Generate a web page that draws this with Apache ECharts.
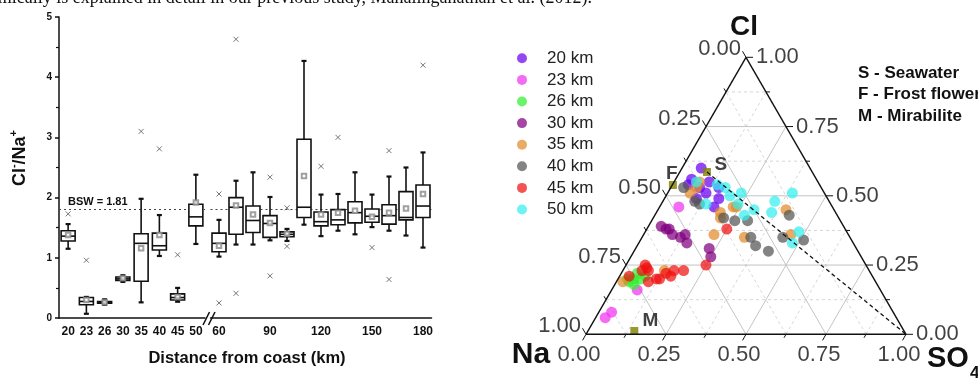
<!DOCTYPE html>
<html>
<head>
<meta charset="utf-8">
<script src="https://cdn.jsdelivr.net/npm/echarts@6/dist/echarts.min.js"></script>
<style>
  html, body { margin: 0; padding: 0; background: #fff; }
  #chart { width: 978px; height: 380px; }
</style>
</head>
<body>
<div id="chart"></div>
<script>
// box plot: Cl-/Na+ ratio by distance from coast
const leftCats = ["20", "23", "26", "30", "35", "40", "45", "50"];
const rightCats = ["60", "70", "80", "90", "100", "110", "120", "130", "140", "150", "160", "170", "180"];
// [min, Q1, median, Q3, max]
const leftBoxes = [
  [1.15, 1.28, 1.36, 1.45, 1.56],
  [0.07, 0.22, 0.275, 0.34, 0.35],
  [0.22, 0.245, 0.26, 0.275, 0.31],
  [0.6, 0.625, 0.65, 0.68, 0.71],
  [0.26, 0.61, 1.24, 1.4, 1.98],
  [1.03, 1.13, 1.2, 1.41, 1.71],
  [0.27, 0.3, 0.34, 0.4, 0.5],
  [1.23, 1.53, 1.68, 1.89, 2.38],
];
const rightBoxes = [
  [1.02, 1.1, 1.24, 1.41, 1.63],
  [1.22, 1.39, 1.84, 2.0, 2.28],
  [1.22, 1.42, 1.62, 1.86, 2.42],
  [1.29, 1.34, 1.57, 1.7, 2.01],
  [1.28, 1.35, 1.39, 1.43, 1.48],
  [1.55, 1.67, 1.84, 2.97, 4.27],
  [1.36, 1.53, 1.6, 1.76, 2.05],
  [1.45, 1.55, 1.63, 1.8, 2.06],
  [1.39, 1.58, 1.75, 1.93, 2.42],
  [1.51, 1.59, 1.69, 1.81, 2.05],
  [1.45, 1.56, 1.7, 1.88, 2.35],
  [1.37, 1.63, 1.67, 2.1, 2.5],
  [1.17, 1.67, 1.86, 2.21, 2.75],
];
const leftMeans = [1.38, 0.3, 0.26, 0.66, 1.16, 1.38, 0.35, 1.92];
const rightMeans = [1.2, 1.87, 1.72, 1.58, 1.4, 2.36, 1.72, 1.75, 1.78, 1.68, 1.75, 1.82, 2.06];
const leftOutliers = [[1.73], [0.96], [], [], [3.1], [2.81], [1.05], []];
const rightOutliers = [[2.06, 0.25], [4.63, 0.41], [], [2.34, 0.7], [1.83, 1.19], [], [2.52], [3.0], [], [1.17], [2.78, 0.64], [], [4.2]];
const bswRatio = 1.81;

// ternary: each point is [Cl fraction, SO4 fraction], Na = 1 - Cl - SO4
const kmNames = ["20 km", "23 km", "26 km", "30 km", "35 km", "40 km", "45 km", "50 km"];
const pts20 = [[0.6, 0.06], [0.56, 0.05], [0.54, 0.05], [0.53, 0.09], [0.51, 0.12], [0.49, 0.1], [0.49, 0.17], [0.46, 0.17], [0.53, 0.15], [0.55, 0.11]];
const pts23 = [[0.46, 0.06], [0.16, 0.08], [0.08, 0.04], [0.06, 0.03]];
const pts26 = [[0.2, 0.05], [0.2, 0.07], [0.22, 0.05], [0.19, 0.04], [0.18, 0.06], [0.21, 0.08], [0.2, 0.03]];
const pts30 = [[0.39, 0.04], [0.38, 0.06], [0.38, 0.07], [0.36, 0.09], [0.36, 0.13], [0.35, 0.12], [0.33, 0.15], [0.31, 0.23], [0.28, 0.25]];
const pts35 = [[0.55, 0.08], [0.53, 0.08], [0.51, 0.07], [0.46, 0.23], [0.46, 0.24], [0.44, 0.2], [0.42, 0.21], [0.36, 0.22], [0.35, 0.32], [0.45, 0.4], [0.36, 0.46], [0.23, 0.13], [0.19, 0.02]];
const pts40 = [[0.53, 0.04], [0.48, 0.1], [0.47, 0.12], [0.42, 0.22], [0.41, 0.26], [0.41, 0.3], [0.35, 0.34], [0.32, 0.37], [0.3, 0.42], [0.35, 0.44], [0.43, 0.42], [0.34, 0.51]];
const pts45 = [[0.38, 0.25], [0.25, 0.25], [0.25, 0.06], [0.24, 0.07], [0.23, 0.08], [0.23, 0.06], [0.21, 0.03], [0.22, 0.14], [0.23, 0.16], [0.23, 0.19], [0.21, 0.16], [0.2, 0.13], [0.2, 0.12], [0.19, 0.1]];
const pts50 = [[0.55, 0.07], [0.54, 0.14], [0.53, 0.17], [0.5, 0.2], [0.51, 0.23], [0.47, 0.24], [0.47, 0.14], [0.43, 0.28], [0.45, 0.3], [0.48, 0.35], [0.44, 0.36], [0.51, 0.39], [0.37, 0.48], [0.33, 0.48]];
const kmPoints = [pts20, pts23, pts26, pts30, pts35, pts40, pts45, pts50];
const kmColors = ["#6a00ee", "#ee33ee", "#33ee33", "#800080", "#e08a2a", "#555555", "#ee1111", "#33eeee"];

const refNames = ["S", "F", "M"];
const refPoints = [[0.586, 0.085], [0.539, 0.002], [0.012, 0.145]];
const refLabelOffset = { S: [14, -7], F: [-1, -11], M: [16, -10] };

const ternTicks = [0, 0.25, 0.5, 0.75, 1];
const ternMajor = [0.25, 0.5, 0.75];
const ternMinor = [0.125, 0.375, 0.625, 0.875];

// ternary -> cartesian value space (x 0..1, y 0..1 = Cl)
const tern = (cl, so4) => [so4 + cl / 2, cl];
const TW = 320; // triangle side, px

const chart = echarts.init(document.getElementById("chart"));

function boxItem(params, api) {
  const i = api.value(0);
  const pMin = api.coord([i, api.value(1)]);
  const pQ1 = api.coord([i, api.value(2)]);
  const pMed = api.coord([i, api.value(3)]);
  const pQ3 = api.coord([i, api.value(4)]);
  const pMax = api.coord([i, api.value(5)]);
  const cx = pMin[0];
  const w = 14;
  const ls = { stroke: "#111", lineWidth: 1.6 };
  return {
    type: "group",
    children: [
      { type: "line", shape: { x1: cx, y1: pQ3[1], x2: cx, y2: pMax[1] }, style: ls },
      { type: "line", shape: { x1: cx, y1: pQ1[1], x2: cx, y2: pMin[1] }, style: ls },
      { type: "line", shape: { x1: cx - 2.5, y1: pMax[1], x2: cx + 2.5, y2: pMax[1] }, style: { stroke: "#111", lineWidth: 2.2 } },
      { type: "line", shape: { x1: cx - 2.5, y1: pMin[1], x2: cx + 2.5, y2: pMin[1] }, style: { stroke: "#111", lineWidth: 2.2 } },
      { type: "rect", shape: { x: cx - w / 2, y: pQ3[1], width: w, height: Math.max(pQ1[1] - pQ3[1], 1) }, style: { fill: "#fff", stroke: "#111", lineWidth: 1.6 } },
      { type: "line", shape: { x1: cx - w / 2, y1: pMed[1], x2: cx + w / 2, y2: pMed[1] }, style: ls },
    ],
  };
}

function segItem(style) {
  return function (params, api) {
    const a = api.coord([api.value(0), api.value(1)]);
    const b = api.coord([api.value(2), api.value(3)]);
    return { type: "line", shape: { x1: a[0], y1: a[1], x2: b[0], y2: b[1] }, style: style };
  };
}

const crossPath = "path://M0,0L10,10M10,0L0,10";

function boxSeries(g, boxes, means, outliers) {
  const outData = [];
  outliers.forEach((arr, i) => arr.forEach((v) => outData.push([i, v])));
  return [
    {
      type: "custom",
      xAxisIndex: g, yAxisIndex: g,
      renderItem: boxItem,
      encode: { x: 0, y: [1, 2, 3, 4, 5] },
      data: boxes.map((b, i) => [i].concat(b)),
      z: 3,
    },
    {
      type: "scatter",
      xAxisIndex: g, yAxisIndex: g,
      symbol: "emptyRect",
      symbolSize: 4.5,
      itemStyle: { color: "#888", borderWidth: 1 },
      data: means.map((m, i) => [i, m]),
      z: 4,
      markLine: {
        silent: true,
        symbol: "none",
        label: { show: false },
        lineStyle: { color: "#444", width: 1.2, type: [2, 3] },
        data: [{ yAxis: bswRatio }],
        z: 1,
      },
    },
    {
      type: "scatter",
      xAxisIndex: g, yAxisIndex: g,
      symbol: crossPath,
      symbolSize: 5,
      itemStyle: { color: "none", borderColor: "#555", borderWidth: 1 },
      data: outData,
      z: 4,
    },
  ];
}

// ternary geometry from the tick arrays
const majorSegs = [], minorSegs = [], tickSegs = [];
const gridLines = (t) => [
  tern(t, 0).concat(tern(t, 1 - t)),
  tern(0, t).concat(tern(1 - t, t)),
  tern(0, 1 - t).concat(tern(1 - t, 0)),
];
ternMajor.forEach((t) => majorSegs.push(...gridLines(t)));
ternMinor.forEach((t) => minorSegs.push(...gridLines(t)));
function addTicks(t, len) {
  const s = len / TW;
  const b = tern(0, t); // bottom: SO4
  tickSegs.push(b.concat([b[0] - 0.5 * s, b[1] - s]));
  const l = tern(1 - t, 0); // left: Na
  tickSegs.push(l.concat([l[0] - 0.5 * s, l[1] + s]));
  const r = tern(t, 1 - t); // right: Cl
  tickSegs.push(r.concat([r[0] + s, r[1]]));
}
ternTicks.forEach((t) => addTicks(t, 7));
ternMinor.forEach((t) => addTicks(t, 4));
const outline = [
  tern(0, 0).concat(tern(0, 1)),
  tern(0, 1).concat(tern(1, 0)),
  tern(1, 0).concat(tern(0, 0)),
];
const sDash = [tern(refPoints[0][0], refPoints[0][1]).concat(tern(0, 1))];

const lbl = (t) => t.toFixed(2);
const tickFont = { fontSize: 22, color: "#111", fontFamily: "Liberation Sans" };
function tickLabelSeries(points, align, offset) {
  return {
    type: "scatter",
    xAxisIndex: 2, yAxisIndex: 2,
    symbolSize: 0,
    silent: true,
    data: points,
    label: Object.assign({ show: true, position: "inside", align: align, verticalAlign: "middle", offset: offset, formatter: (p) => p.value[2] }, tickFont),
    z: 6,
  };
}

const segSeries = (data, style, z) => ({
  type: "custom",
  xAxisIndex: 2, yAxisIndex: 2,
  renderItem: segItem(style),
  encode: { x: [0, 2], y: [1, 3] },
  data: data,
  silent: true,
  z: z,
});

const series = [
  ...boxSeries(0, leftBoxes, leftMeans, leftOutliers),
  ...boxSeries(1, rightBoxes, rightMeans, rightOutliers),
  segSeries(minorSegs, { stroke: "#d6d6d6", lineWidth: 1, lineDash: [3, 3] }, 1),
  segSeries(majorSegs, { stroke: "#c4c4c4", lineWidth: 1 }, 1),
  segSeries(tickSegs, { stroke: "#111", lineWidth: 1 }, 5),
  segSeries(outline, { stroke: "#111", lineWidth: 1.4 }, 5),
  segSeries(sDash, { stroke: "#111", lineWidth: 1.3, lineDash: [4, 3] }, 5),
  tickLabelSeries(ternTicks.map((t) => tern(0, t).concat(lbl(t))), "center", [-7, 21]),
  tickLabelSeries(ternTicks.map((t) => tern(1 - t, 0).concat(lbl(t))), "right", [-5, -8]),
  tickLabelSeries(ternTicks.map((t) => tern(t, 1 - t).concat(lbl(t))), "left", [10, 0]),
];
kmNames.forEach((name, k) => {
  series.push({
    name: name,
    type: "scatter",
    xAxisIndex: 2, yAxisIndex: 2,
    symbolSize: 11,
    itemStyle: { color: kmColors[k], opacity: 0.72 },
    data: kmPoints[k].map((p) => tern(p[0], p[1])),
    z: 3,
  });
});
series.push({
  type: "scatter",
  xAxisIndex: 2, yAxisIndex: 2,
  symbol: "rect",
  symbolSize: 8,
  itemStyle: { color: "#7f7f00" },
  data: refNames.map((n, i) => ({
    name: n,
    value: tern(refPoints[i][0], refPoints[i][1]),
    label: { offset: refLabelOffset[n] },
  })),
  label: { show: true, position: "inside", formatter: "{b}", fontSize: 19, fontWeight: "bold", color: "#111" },
  z: 4,
});

const boldAxisLabel = { fontWeight: "bold", fontSize: 12, color: "#111", margin: 8 };
const catAxis = (g, data, interval) => ({
  type: "category",
  gridIndex: g,
  data: data,
  boundaryGap: true,
  axisLine: { lineStyle: { color: "#111", width: 1.5 } },
  axisTick: { alignWithLabel: true, interval: interval, length: 5, lineStyle: { color: "#111", width: 1.5 } },
  axisLabel: Object.assign({ interval: interval }, boldAxisLabel),
  splitLine: { show: false },
});

const option = {
  animation: false,
  textStyle: { fontFamily: "Liberation Sans" },
  grid: [
    { left: 59, top: 17, width: 146, height: 301 },
    { left: 210.5, top: 17, width: 221, height: 301 },
    { left: 586, top: 57.3, width: TW, height: 277 },
  ],
  xAxis: [
    catAxis(0, leftCats, 0),
    catAxis(1, rightCats, 2),
    { type: "value", gridIndex: 2, min: 0, max: 1, show: false },
  ],
  yAxis: [
    {
      type: "value", gridIndex: 0, min: 0, max: 5, interval: 1,
      axisLine: { show: true, lineStyle: { color: "#111", width: 1.5 } },
      axisTick: { show: true, length: 4, lineStyle: { color: "#111", width: 1.5 } },
      minorTick: { show: true, splitNumber: 2, length: 3, lineStyle: { color: "#111", width: 1.2 } },
      axisLabel: { fontWeight: "bold", fontSize: 10, color: "#111", margin: 7 },
      splitLine: { show: false },
    },
    { type: "value", gridIndex: 1, min: 0, max: 5, show: false },
    { type: "value", gridIndex: 2, min: 0, max: 1, show: false },
  ],
  legend: {
    data: kmNames,
    orient: "vertical",
    left: 512,
    top: 44.8,
    itemWidth: 40,
    itemHeight: 10,
    itemGap: 4.6,
    icon: "circle",
    selectedMode: false,
    textStyle: { fontSize: 17, color: "#222", lineHeight: 17 },
  },
  graphic: [
    {
      type: "text", x: 592, y: 7,
      style: { text: "ochemically is explained in detail in our previous study, Mahalinganathan et al. (2012).", fontFamily: "Liberation Serif", fontSize: 18, fill: "#111", align: "right", verticalAlign: "bottom" },
    },
    {
      type: "text", x: 20, y: 158, rotation: Math.PI / 2,
      style: {
        text: "Cl{s|-}/Na{s|+}", align: "center", verticalAlign: "middle",
        fontFamily: "Liberation Sans", fontSize: 18, fontWeight: "bold", fill: "#111",
        rich: { s: { fontSize: 11, fontWeight: "bold", verticalAlign: "top", lineHeight: 24, fill: "#111" } },
      },
    },
    { type: "text", x: 247, y: 358, style: { text: "Distance from coast (km)", align: "center", verticalAlign: "middle", fontFamily: "Liberation Sans", fontSize: 16.5, fontWeight: "bold", fill: "#111" } },
    { type: "text", x: 68, y: 202, style: { text: "BSW = " + bswRatio.toFixed(2), align: "left", verticalAlign: "middle", fontFamily: "Liberation Sans", fontSize: 11, fontWeight: "bold", fill: "#111" } },
    { type: "line", shape: { x1: 203, y1: 325, x2: 209.5, y2: 312 }, style: { stroke: "#111", lineWidth: 1.5 } },
    { type: "line", shape: { x1: 208.5, y1: 325, x2: 215, y2: 312 }, style: { stroke: "#111", lineWidth: 1.5 } },
    { type: "text", x: 744, y: 27, style: { text: "Cl", align: "center", verticalAlign: "middle", fontFamily: "Liberation Sans", fontSize: 28, fontWeight: "bold", fill: "#111" } },
    { type: "text", x: 531, y: 355, style: { text: "Na", align: "center", verticalAlign: "middle", fontFamily: "Liberation Sans", fontSize: 30, fontWeight: "bold", fill: "#111" } },
    { type: "text", x: 927, y: 359, style: { text: "SO", align: "left", verticalAlign: "middle", fontFamily: "Liberation Sans", fontSize: 29, fontWeight: "bold", fill: "#111" } },
    { type: "text", x: 970, y: 373, style: { text: "4", align: "left", verticalAlign: "middle", fontFamily: "Liberation Sans", fontSize: 17, fontWeight: "bold", fill: "#111" } },
    { type: "text", x: 858, y: 73, style: { text: "S - Seawater", align: "left", verticalAlign: "middle", fontFamily: "Liberation Sans", fontSize: 17, fontWeight: "bold", fill: "#111" } },
    { type: "text", x: 858, y: 94.5, style: { text: "F - Frost flower", align: "left", verticalAlign: "middle", fontFamily: "Liberation Sans", fontSize: 17, fontWeight: "bold", fill: "#111" } },
    { type: "text", x: 858, y: 116, style: { text: "M - Mirabilite", align: "left", verticalAlign: "middle", fontFamily: "Liberation Sans", fontSize: 17, fontWeight: "bold", fill: "#111" } },
  ],
  series: series,
};

chart.setOption(option);
window.addEventListener("resize", () => chart.resize());
</script>
</body>
</html>
